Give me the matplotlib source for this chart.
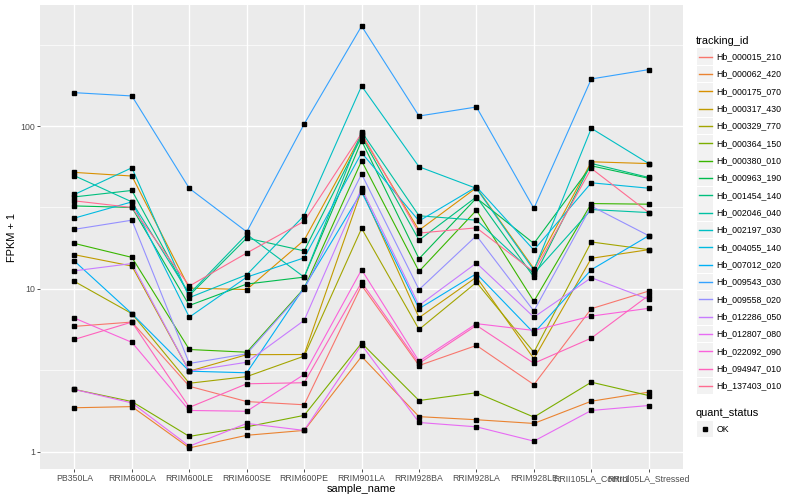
import matplotlib
matplotlib.use("Agg")
import matplotlib.pyplot as plt
import numpy as np
from matplotlib.patches import Rectangle
from matplotlib.lines import Line2D
from matplotlib.ticker import FixedLocator, NullFormatter

plt.rcParams['font.family'] = ['Liberation Sans', 'DejaVu Sans']

# Samples on the x axis
samples = ["PB350LA", "RRIM600LA", "RRIM600LE", "RRIM600SE", "RRIM600PE",
           "RRIM901LA", "RRIM928BA", "RRIM928LA", "RRIM928LE",
           "RRII105LA_Control", "RRII105LA_Stressed"]

tracking_ids = ["Hb_000015_210", "Hb_000062_420", "Hb_000175_070", "Hb_000317_430",
                "Hb_000329_770", "Hb_000364_150", "Hb_000380_010", "Hb_000963_190",
                "Hb_001454_140", "Hb_002046_040", "Hb_002197_030", "Hb_004055_140",
                "Hb_007012_020", "Hb_009543_030", "Hb_009558_020", "Hb_012286_050",
                "Hb_012807_080", "Hb_022092_090", "Hb_094947_010", "Hb_137403_010"]

# ggplot default hue palette for 20 levels
colors = ["#F8766D", "#EA8331", "#D89000", "#C09B00", "#A3A500", "#7CAE00",
          "#39B600", "#00BB4E", "#00BF7D", "#00C1A3", "#00BFC4", "#00BAE0",
          "#00B0F6", "#35A2FF", "#9590FF", "#C77CFF", "#E76BF3", "#FA62DB",
          "#FF62BC", "#FF6C91"]

# FPKM values per gene (sample order as above)
hb_000015_210 = [4.88, 5.25, 1.52, 1.03, 0.94, 9.5, 2.38, 3.49, 1.58, 6.55, 8.69]
hb_000062_420 = [0.86, 0.89, 0.054, 0.26, 0.35, 2.84, 0.64, 0.57, 0.49, 1.04, 1.32]
hb_000175_070 = [50.9, 48.3, 9.1, 8.9, 18.9, 87.1, 21.9, 40.8, 12.3, 59.3, 57.8]
hb_000317_430 = [15.2, 12.8, 2.12, 2.94, 2.95, 39.4, 5.65, 10.8, 2.72, 14.4, 16.4]
hb_000329_770 = [10.1, 6.04, 1.63, 1.89, 2.86, 22.5, 4.63, 9.96, 3.08, 18.4, 16.4]
hb_000364_150 = [1.41, 1.03, 0.24, 0.42, 0.67, 3.64, 1.06, 1.30, 0.63, 1.67, 1.21]
hb_000380_010 = [18.0, 14.6, 3.24, 3.08, 9.07, 60.1, 11.8, 29.4, 7.38, 32.4, 32.1]
hb_000963_190 = [31.3, 30.6, 6.9, 9.7, 10.8, 80.2, 14.3, 35.1, 18.0, 56.0, 46.7]
hb_001454_140 = [35.7, 39.2, 8.1, 19.5, 16.1, 85.0, 18.9, 35.7, 10.8, 57.9, 47.3]
hb_002046_040 = [48.5, 33.2, 8.3, 20.6, 10.8, 91.2, 27.1, 25.4, 11.4, 29.7, 28.4]
hb_002197_030 = [37.0, 54.4, 7.83, 11.2, 27.2, 175.2, 55.2, 40.4, 12.0, 95.8, 57.8]
hb_004055_140 = [26.2, 33.2, 5.7, 10.8, 14.5, 67.5, 25.1, 41.3, 16.3, 43.8, 40.5]
hb_007012_020 = [13.8, 6.04, 2.12, 2.05, 9.2, 38.4, 6.55, 11.4, 4.35, 12.1, 20.2]
hb_009543_030 = [159.3, 152.0, 40.4, 21.4, 101.9, 410.0, 114.2, 129.9, 30.2, 193.6, 221.1]
hb_009558_020 = [22.2, 25.4, 2.48, 2.99, 8.93, 49.7, 8.89, 20.2, 6.30, 31.2, 20.2]
hb_012286_050 = [11.9, 13.3, 2.12, 2.54, 5.4, 40.4, 6.91, 13.4, 5.7, 10.7, 7.62]
hb_012807_080 = [1.41, 0.99, 0.08, 0.49, 0.35, 3.53, 0.51, 0.42, 0.16, 0.79, 0.92]
hb_022092_090 = [5.61, 3.69, 0.79, 0.77, 1.98, 12.1, 2.59, 5.11, 4.55, 5.80, 6.59]
hb_094947_010 = [3.89, 5.25, 0.87, 1.61, 1.65, 9.96, 2.48, 4.96, 2.49, 3.98, 8.12]
hb_137403_010 = [33.7, 30.6, 9.4, 15.6, 25.0, 89.2, 21.0, 22.7, 11.7, 53.9, 28.4]

fpkm = [hb_000015_210, hb_000062_420, hb_000175_070, hb_000317_430, hb_000329_770,
        hb_000364_150, hb_000380_010, hb_000963_190, hb_001454_140, hb_002046_040,
        hb_002197_030, hb_004055_140, hb_007012_020, hb_009543_030, hb_009558_020,
        hb_012286_050, hb_012807_080, hb_022092_090, hb_094947_010, hb_137403_010]

fig = plt.figure(figsize=(8, 5), dpi=100)
ax = fig.add_axes([0.05, 0.062, 0.804, 0.928])
ax.set_facecolor("#EBEBEB")

x = np.arange(len(samples))
for vals, col in zip(fpkm, colors):
    ax.plot(x, np.array(vals) + 1, color=col, lw=0.8, zorder=2)
for vals in fpkm:
    ax.plot(x, np.array(vals) + 1, ls="none", marker="s", ms=2.3,
            color="black", zorder=3)

# log scale with ggplot style expansion
ax.set_yscale("log")
allv = np.log10(np.array(fpkm) + 1)
lo, hi = allv.min(), allv.max()
pad = 0.05 * (hi - lo)
ax.set_ylim(10 ** (lo - pad), 10 ** (hi + pad))
ax.set_xlim(-0.6, len(samples) - 0.4)

ax.set_yticks([1, 10, 100])
ax.set_yticklabels(["1", "10", "100"])
ax.yaxis.set_minor_locator(FixedLocator([10 ** 0.5, 10 ** 1.5, 10 ** 2.5]))
ax.yaxis.set_minor_formatter(NullFormatter())
ax.set_xticks(x)
ax.set_xticklabels(samples)

ax.grid(which="major", color="white", lw=1.0)
ax.grid(which="minor", axis="y", color="white", lw=0.5)
ax.set_axisbelow(True)
for s in ax.spines.values():
    s.set_visible(False)
ax.tick_params(which="major", length=2.0, width=0.6, color="#333333",
               labelsize=6.3, labelcolor="#4D4D4D", pad=1.6)
ax.tick_params(which="minor", length=0)

fig.text(361.5 / 800, 1 - 489 / 500, "sample_name", ha="center", va="center", fontsize=7.9)
fig.text(12 / 800, 1 - 237 / 500, "FPKM + 1", ha="center", va="center",
         rotation=90, fontsize=7.9)


def px(xp, yp):
    return xp / 800, 1 - yp / 500


# Legend: tracking_id
fig.text(*px(696, 40.5), "tracking_id", ha="left", va="center", fontsize=7.9)
for i, (name, col) in enumerate(zip(tracking_ids, colors)):
    yc = 56.7 + 17.33 * i
    x0, y0 = px(697, yc + 8.3)
    fig.add_artist(Rectangle((x0, y0), 16 / 800, 16.6 / 500, transform=fig.transFigure,
                             facecolor="#F2F2F2", edgecolor="none", zorder=1))
    fig.add_artist(Line2D([698.5 / 800, 711.5 / 800], [1 - yc / 500] * 2,
                          transform=fig.transFigure, color=col, lw=1.0, zorder=2))
    fig.text(*px(716.5, yc), name, ha="left", va="center", fontsize=6.3)

# Legend: quant_status
fig.text(*px(696, 412.5), "quant_status", ha="left", va="center", fontsize=7.9)
x0, y0 = px(697, 429 + 8.3)
fig.add_artist(Rectangle((x0, y0), 16 / 800, 16.6 / 500, transform=fig.transFigure,
                         facecolor="#F2F2F2", edgecolor="none", zorder=1))
fig.add_artist(Line2D([705 / 800], [1 - 429 / 500], transform=fig.transFigure,
                      ls="none", marker="s", ms=2.3, color="black", zorder=2))
fig.text(*px(716.5, 429), "OK", ha="left", va="center", fontsize=6.3)

fig.savefig("out.png", dpi=100)
